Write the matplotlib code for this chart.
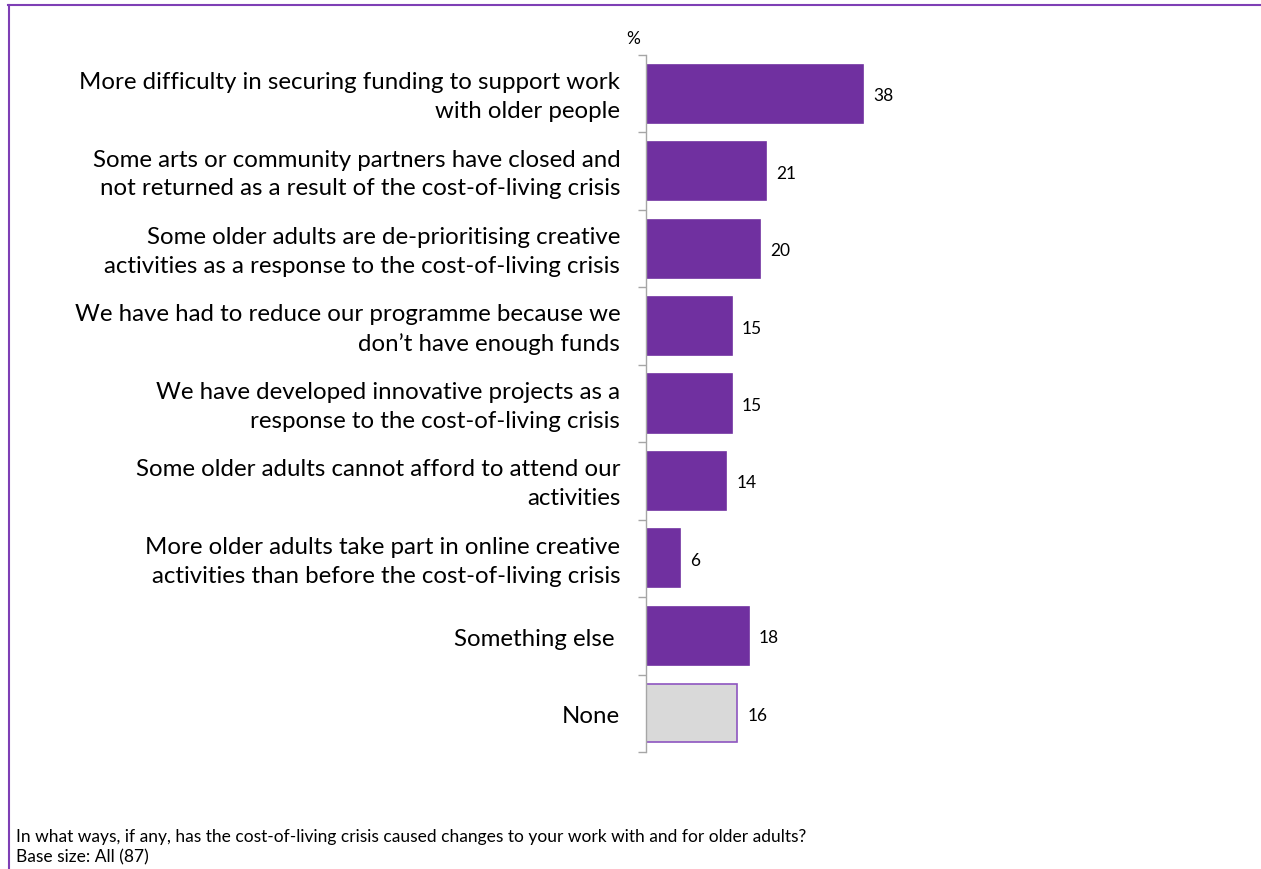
import matplotlib.pyplot as plt
from matplotlib.lines import Line2D

plt.rcParams["font.family"] = ["Lato", "DejaVu Sans"]

categories = [
    "More difficulty in securing funding to support work\nwith older people",
    "Some arts or community partners have closed and\nnot returned as a result of the cost-of-living crisis",
    "Some older adults are de-prioritising creative\nactivities as a response to the cost-of-living crisis",
    "We have had to reduce our programme because we\ndon\u2019t have enough funds",
    "We have developed innovative projects as a\nresponse to the cost-of-living crisis",
    "Some older adults cannot afford to attend our\nactivities",
    "More older adults take part in online creative\nactivities than before the cost-of-living crisis",
    "Something else ",
    "None",
]
values = [38, 21, 20, 15, 15, 14, 6, 18, 16]

purple = "#7030A0"
grey_fill = "#D9D9D9"
colors = [purple] * 8 + [grey_fill]
edges = [purple] * 8 + ["#8E55C0"]

fig = plt.figure(figsize=(12.61, 8.7), dpi=100)
ax = fig.add_axes([646 / 1261, 1 - 753 / 870, 571 / 1261, 697 / 870])

pos = list(range(len(categories)))
ax.barh(pos, values, height=0.75, color=colors, edgecolor=edges, linewidth=1.2)
ax.set_ylim(len(categories) - 0.5, -0.5)
ax.set_xlim(0, 100)

# category labels to the left of the axis
for i, lab in enumerate(categories):
    ax.text(-4.5, i + 0.03, lab, ha="right", va="center", fontsize=17.3,
            linespacing=1.45, color="#000000")

# value labels
for i, v in enumerate(values):
    ax.text(v + 1.8, i + 0.02, str(v), ha="left", va="center", fontsize=12.5)

ax.text(-2.2, -0.62, "%", ha="center", va="bottom", fontsize=12.5)

# axis styling: only the left spine, with ticks between categories
for s in ["top", "right", "bottom"]:
    ax.spines[s].set_visible(False)
ax.spines["left"].set_color("#A6A6A6")
ax.spines["left"].set_linewidth(1)
ax.set_xticks([])
ax.set_yticks([i - 0.5 for i in range(len(categories) + 1)])
ax.set_yticklabels([])
ax.tick_params(axis="y", length=6, color="#A6A6A6", width=1)

# footer
fig.text(16 / 1261, 1 - 837 / 870, "In what ways, if any, has the cost-of-living crisis caused changes to your work with and for older adults?",
         fontsize=12.5, ha="left", va="center")
fig.text(16 / 1261, 1 - 857 / 870, "Base size: All (87)", fontsize=12.5, ha="left", va="center")

# purple frame along the top and left
fig.add_artist(Line2D([8 / 1261, 1], [1 - 6 / 870, 1 - 6 / 870], color="#7E3FB5", linewidth=1.5))
fig.add_artist(Line2D([9 / 1261, 9 / 1261], [0, 1 - 6 / 870], color="#7E3FB5", linewidth=1.5))

fig.savefig("out.png", dpi=100)
